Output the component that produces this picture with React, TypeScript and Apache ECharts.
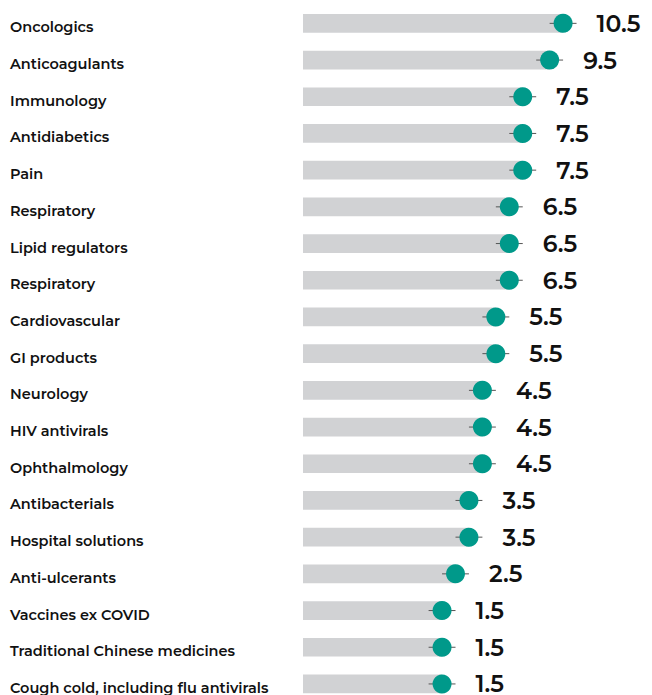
import React, { useEffect, useRef } from "react";
import * as echarts from "echarts";

const categories = [
  "Oncologics",
  "Anticoagulants",
  "Immunology",
  "Antidiabetics",
  "Pain",
  "Respiratory",
  "Lipid regulators",
  "Respiratory",
  "Cardiovascular",
  "GI products",
  "Neurology",
  "HIV antivirals",
  "Ophthalmology",
  "Antibacterials",
  "Hospital solutions",
  "Anti-ulcerants",
  "Vaccines ex COVID",
  "Traditional Chinese medicines",
  "Cough cold, including flu antivirals",
];
const values = [10.5, 9.5, 7.5, 7.5, 7.5, 6.5, 6.5, 6.5, 5.5, 5.5, 4.5, 4.5, 4.5, 3.5, 3.5, 2.5, 1.5, 1.5, 1.5];
const errorMargins = [1, 1, 1, 1, 1, 1, 1, 1, 1, 1, 1, 1, 1, 1, 1, 1, 1, 1, 1];

const AXIS_MIN = -8.84;
const AXIS_MAX = 15.55;

export default function App() {
  const ref = useRef<HTMLDivElement>(null);
  useEffect(() => {
    if (!ref.current) return;
    const chart = echarts.init(ref.current, null, { renderer: "svg" });
    const barData = values.map((v, i) => [i, v, errorMargins[i]]);
    chart.setOption({
      animation: false,
      grid: { left: 303, top: 5, right: 21, bottom: 7.7, containLabel: false },
      xAxis: {
        type: "value",
        min: AXIS_MIN,
        max: AXIS_MAX,
        show: false,
      },
      yAxis: {
        type: "category",
        data: categories,
        inverse: true,
        axisLine: { show: false },
        axisTick: { show: false },
        splitLine: { show: false },
        axisLabel: {
          align: "left",
          verticalAlign: "top",
          lineHeight: 8,
          margin: 293,
          color: "#111",
          fontFamily: "Montserrat, 'Open Sans', sans-serif",
          fontWeight: 600,
          fontSize: 14.5,
        },
      },
      series: [
        {
          type: "custom",
          encode: { x: 1, y: 0 },
          data: barData,
          clip: false,
          renderItem: (params: any, api: any) => {
            const idx = api.value(0);
            const v = api.value(1);
            const e = api.value(2);
            const start = api.coord([AXIS_MIN, idx]);
            const end = api.coord([v, idx]);
            const bandH = api.size([0, 1])[1];
            const h = bandH * 0.51;
            const lo = api.coord([v - e, idx]);
            const hi = api.coord([v + e, idx]);
            return {
              type: "group",
              children: [
                {
                  type: "rect",
                  shape: { x: start[0], y: start[1] - h / 2, width: end[0] - start[0], height: h },
                  style: { fill: "#d1d2d4" },
                },
                {
                  type: "line",
                  shape: { x1: lo[0], y1: lo[1], x2: hi[0], y2: hi[1] },
                  style: { stroke: "#555", lineWidth: 1 },
                },
              ],
            };
          },
        },
        {
          type: "scatter",
          data: values.map((v, i) => [v, i]),
          symbol: "circle",
          symbolSize: 19,
          itemStyle: { color: "#00998a", opacity: 1 },
          label: {
            show: true,
            position: "right",
            distance: 24,
            formatter: (p: any) => String(p.value[0]),
            color: "#111",
            fontFamily: "Montserrat, 'Open Sans', sans-serif",
            fontWeight: 600,
            fontSize: 23.5,
          },
          z: 3,
        },
      ],
    });
    return () => chart.dispose();
  }, []);
  return (
    <div
      ref={ref}
      style={{ position: "fixed", left: 0, top: 0, width: 652, height: 710, background: "#fff" }}
    />
  );
}
